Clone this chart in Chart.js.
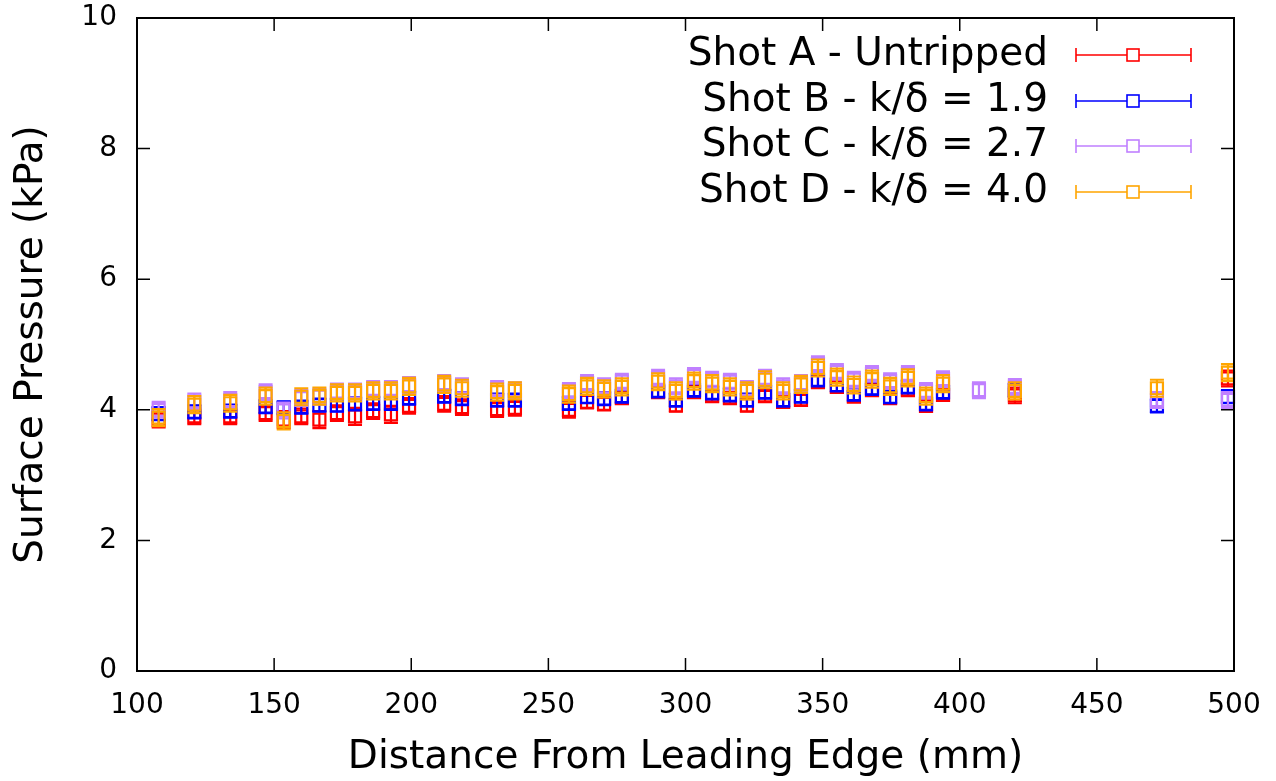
<!DOCTYPE html>
<html>
<head>
<meta charset="utf-8">
<script src="https://cdn.jsdelivr.net/npm/chart.js@4.4.0/dist/chart.umd.min.js"></script>
<style>
  html, body { margin: 0; padding: 0; background: #ffffff; }
  #wrap { width: 1276px; height: 781px; position: relative; }
</style>
</head>
<body>
<div id="wrap"><canvas id="chart" width="1276" height="781"></canvas></div>
<script>
// Tap positions along the plate (mm from leading edge)
const distance = [107.9, 120.9, 134.0, 146.9, 153.5, 159.9, 166.5, 172.9, 179.5, 186.1,
                  192.6, 199.2, 212.0, 218.5, 231.3, 237.8, 257.5, 264.1, 270.3, 276.8,
                  290.0, 296.5, 303.1, 309.7, 316.2, 322.4, 329.0, 335.6, 342.1, 348.3,
                  355.2, 361.4, 368.0, 374.6, 381.1, 387.7, 393.9, 407.0, 420.1, 471.9, 497.8];

// Mean surface pressure per shot (kPa); null where a tap gave no reading
const shotA = [3.85, 3.90, 3.90, 3.95, 3.85, 3.90, 3.85, 3.95, 3.90, 3.98,
               3.93, 4.06, 4.09, 4.04, 4.01, 4.03, 4.00, 4.12, 4.09, 4.18,
               4.27, 4.07, 4.27, 4.21, 4.18, 4.07, 4.21, 4.12, 4.15, 4.43,
               4.35, 4.20, 4.30, 4.18, 4.30, 4.06, 4.23, null, 4.22, null, 4.48];
const shotB = [3.94, 3.97, 3.98, 4.05, 4.03, 4.04, 4.07, 4.07, 4.09, 4.10,
               4.10, 4.18, 4.21, 4.17, 4.15, 4.15, 4.10, 4.20, 4.17, 4.21,
               4.29, 4.15, 4.30, 4.26, 4.23, 4.15, 4.27, 4.15, 4.21, 4.46,
               4.38, 4.24, 4.33, 4.20, 4.35, 4.09, 4.27, null, 4.30, 4.06, 4.20];
const shotC = [4.00, 4.13, 4.15, 4.27, 3.99, 4.18, 4.20, 4.28, 4.28, 4.32,
               4.32, 4.38, 4.41, 4.36, 4.32, 4.30, 4.29, 4.41, 4.36, 4.43,
               4.49, 4.36, 4.52, 4.46, 4.43, 4.32, 4.49, 4.36, 4.41, 4.70,
               4.58, 4.46, 4.55, 4.44, 4.55, 4.29, 4.47, 4.30, 4.35, 4.15, 4.15];
const shotD = [3.88, 4.08, 4.10, 4.21, 3.83, 4.20, 4.21, 4.26, 4.26, 4.29,
               4.29, 4.36, 4.39, 4.33, 4.27, 4.29, 4.24, 4.36, 4.32, 4.35,
               4.43, 4.29, 4.44, 4.40, 4.35, 4.29, 4.46, 4.29, 4.39, 4.64,
               4.50, 4.38, 4.47, 4.36, 4.49, 4.21, 4.40, null, 4.29, 4.33, 4.57];

// Half-width of the uncertainty band (kPa)
const errA = [0.12, 0.12, 0.12, 0.12, 0.13, 0.12, 0.13, 0.12, 0.13, 0.12,
              0.13, 0.12, 0.12, 0.12, 0.12, 0.12, 0.12, 0.10, 0.10, 0.08,
              0.08, 0.10, 0.08, 0.08, 0.08, 0.10, 0.08, 0.08, 0.08, 0.10,
              0.08, 0.08, 0.08, 0.08, 0.08, 0.08, 0.08, null, 0.12, null, 0.12];
const errB = 0.10;
const errC = 0.12;
const errD = 0.13;

const seriesLabels = ['Shot A - Untripped', 'Shot B - k/δ = 1.9', 'Shot C - k/δ = 2.7', 'Shot D - k/δ = 4.0'];
const seriesColors = ['#ff0000', '#0000ff', '#c080ff', '#ffa500'];

const xTicks = [100, 150, 200, 250, 300, 350, 400, 450, 500];
const yTicks = [0, 2, 4, 6, 8, 10];

const FONT = "'DejaVu Sans', 'Liberation Sans', sans-serif";
const MARK_LW = 2.2;

function toPoints(values, err) {
  const out = [];
  distance.forEach((x, i) => {
    if (values[i] == null) return;
    const e = Array.isArray(err) ? err[i] : err;
    out.push({ x: x, y: values[i], e: e });
  });
  return out;
}

const seriesValues = [shotA, shotB, shotC, shotD];
const seriesErrors = [errA, errB, errC, errD];

const datasets = seriesValues.map((vals, k) => ({
  label: seriesLabels[k],
  data: toPoints(vals, seriesErrors[k]),
  order: 4 - k,               // later shots are painted over earlier ones
  showLine: false,
  pointStyle: 'rect',
  pointRadius: 8.5,
  pointHoverRadius: 8.5,
  pointBorderWidth: MARK_LW,
  pointBorderColor: seriesColors[k],
  pointBackgroundColor: 'rgba(0,0,0,0)',
  borderColor: seriesColors[k],
  backgroundColor: 'rgba(0,0,0,0)',
  clip: false
}));

// Vertical error bars with caps, drawn together with each dataset
const errorBars = {
  id: 'errorBars',
  afterDatasetDraw(chart, args) {
    const meta = args.meta;
    const ds = chart.data.datasets[args.index];
    const ys = chart.scales.y;
    const ctx = chart.ctx;
    ctx.save();
    ctx.strokeStyle = ds.borderColor;
    ctx.lineWidth = MARK_LW;
    meta.data.forEach((pt, i) => {
      const d = ds.data[i];
      const top = ys.getPixelForValue(d.y + d.e);
      const bot = ys.getPixelForValue(d.y - d.e);
      ctx.beginPath();
      ctx.moveTo(pt.x, top); ctx.lineTo(pt.x, bot);
      ctx.moveTo(pt.x - 7, top); ctx.lineTo(pt.x + 7, top);
      ctx.moveTo(pt.x - 7, bot); ctx.lineTo(pt.x + 7, bot);
      ctx.stroke();
    });
    ctx.restore();
  }
};

// Plot frame with inward, mirrored tick marks
const frame = {
  id: 'frame',
  afterDatasetsDraw(chart) {
    const { ctx, chartArea: a, scales: { x, y } } = chart;
    const tl = 13;
    ctx.save();
    ctx.strokeStyle = '#000';
    ctx.lineWidth = 1.5;
    ctx.beginPath();
    xTicks.forEach(v => {
      const px = x.getPixelForValue(v);
      ctx.moveTo(px, a.bottom); ctx.lineTo(px, a.bottom - tl);
      ctx.moveTo(px, a.top); ctx.lineTo(px, a.top + tl);
    });
    yTicks.forEach(v => {
      const py = y.getPixelForValue(v);
      ctx.moveTo(a.left, py); ctx.lineTo(a.left + tl, py);
      ctx.moveTo(a.right, py); ctx.lineTo(a.right - tl, py);
    });
    ctx.stroke();
    ctx.lineWidth = 2;
    ctx.strokeRect(a.left, a.top, a.right - a.left, a.bottom - a.top);
    ctx.restore();
  }
};

// Key in the upper right: label text, then an error-bar sample with its marker
const keyBox = {
  id: 'keyBox',
  afterDraw(chart) {
    const ctx = chart.ctx;
    const textRight = 1048, x0 = 1076, x1 = 1191, xm = 1133;
    const rowY = [55, 101, 146, 192];
    ctx.save();
    ctx.font = '39px ' + FONT;
    ctx.textAlign = 'right';
    ctx.textBaseline = 'middle';
    chart.data.datasets.forEach((ds, k) => {
      const yy = rowY[k];
      ctx.fillStyle = '#000';
      ctx.fillText(ds.label, textRight, yy);
      ctx.strokeStyle = ds.borderColor;
      ctx.lineWidth = 1.6;
      ctx.beginPath();
      ctx.moveTo(x0, yy); ctx.lineTo(x1, yy);
      ctx.moveTo(x0, yy - 7); ctx.lineTo(x0, yy + 7);
      ctx.moveTo(x1, yy - 7); ctx.lineTo(x1, yy + 7);
      ctx.stroke();
      ctx.fillStyle = '#fff';
      ctx.fillRect(xm - 6, yy - 6, 12, 12);
      ctx.strokeRect(xm - 6, yy - 6, 12, 12);
    });
    ctx.restore();
  }
};

new Chart(document.getElementById('chart'), {
  type: 'scatter',
  data: { datasets: datasets },
  plugins: [errorBars, frame, keyBox],
  options: {
    responsive: false,
    animation: false,
    events: [],
    layout: { padding: { left: 0, right: 42, top: 18, bottom: 0 } },
    plugins: { legend: { display: false }, tooltip: { enabled: false } },
    scales: {
      x: {
        type: 'linear', min: 100, max: 500,
        afterBuildTicks: s => { s.ticks = xTicks.map(v => ({ value: v })); },
        afterFit: s => { s.height = 110; s.paddingLeft = 0; s.paddingRight = 0; },
        grid: { display: false, drawTicks: false },
        border: { display: false },
        ticks: { color: '#000', font: { family: FONT, size: 28 }, padding: 18, maxRotation: 0 },
        title: { display: true, text: 'Distance From Leading Edge (mm)', color: '#000',
                 font: { family: FONT, size: 39, lineHeight: 1 }, padding: { top: 0, bottom: 4 } }
      },
      y: {
        type: 'linear', min: 0, max: 10,
        afterBuildTicks: s => { s.ticks = yTicks.map(v => ({ value: v })); },
        afterFit: s => { s.width = 137; s.paddingTop = 0; s.paddingBottom = 0; },
        grid: { display: false, drawTicks: false },
        border: { display: false },
        ticks: { color: '#000', font: { family: FONT, size: 28 }, padding: 20 },
        title: { display: true, text: 'Surface Pressure (kPa)', color: '#000',
                 font: { family: FONT, size: 39, lineHeight: 1 }, padding: { top: 12, bottom: 0 } }
      }
    }
  }
});
</script>
</body>
</html>
